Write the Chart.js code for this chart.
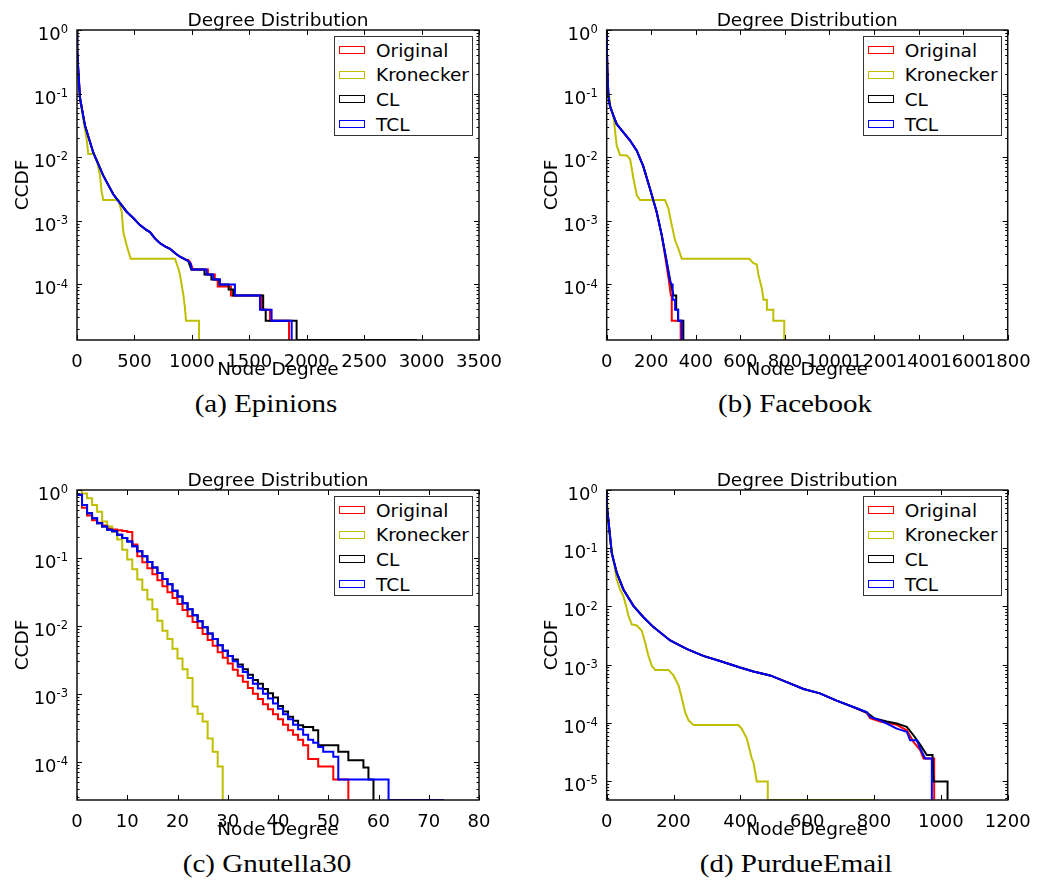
<!DOCTYPE html>
<html>
<head>
<meta charset="utf-8">
<script src="https://cdn.jsdelivr.net/npm/chart.js@4.4.0/dist/chart.umd.min.js"></script>
<style>
    body { margin: 0; background: #fff; width: 1038px; height: 880px; position: relative; overflow: hidden; font-family: "DejaVu Sans", sans-serif; }
    .panel { position: absolute; height: 390px; }
    .panel canvas { position: absolute; left: 0; top: 0; }
    .legend { position: absolute; width: 139px; height: 100px; border: 1px solid #333; box-sizing: border-box; background: #fff; }
    .item { position: absolute; left: 4px; height: 24px; display: flex; align-items: center; font: 18.5px "DejaVu Sans"; color: #000; white-space: nowrap; }
    .swatch { display: inline-block; width: 26px; height: 8px; border: 1.5px solid; box-sizing: border-box; margin-right: 11px; }
    .caption { position: absolute; width: 400px; text-align: center; font: 25px "Liberation Serif", serif; line-height: 25px; color: #000; transform: scaleX(1.16); white-space: nowrap; }
</style>
</head>
<body>
<script>
/* ================================
      DADOS
================================ */
const seriesNames = ["Original", "Kronecker", "CL", "TCL"];
const seriesColors = ["#ff0000", "#bfbf00", "#000000", "#0000ff"];
const decadeExponents = ["0", "-1", "-2", "-3", "-4", "-5"];

// (a) Epinions
const epinionsXTicks = [0, 500, 1000, 1500, 2000, 2500, 3000, 3500];
const epinionsYTicks = [1, 1e-1, 1e-2, 1e-3, 1e-4];
const epinionsYMin = 1.32e-5;
const epinionsHead = [[0, 1], [2, 0.5], [11, 0.237], [26, 0.085], [70, 0.031], [142, 0.0117], [229, 0.0051], [316, 0.0026], [432, 0.00138], [490, 0.0011], [548, 0.00085], [600, 0.00072], [635, 0.00066], [680, 0.00052], [723, 0.00044], [770, 0.00039], [810, 0.00036], [860, 0.0003], [897, 0.00027], [950, 0.00024]];
const epinionsOriginal = [...epinionsHead, [969, 0.00024], [985, 0.00022], [1000, 0.00019], [1010, 0.00017], [1140, 0.00017], [1140, 0.000142], [1200, 0.000142], [1200, 0.000118], [1225, 0.000118], [1225, 0.000092], [1340, 0.000092], [1340, 0.000066], [1610, 0.000066], [1610, 0.0000395], [1680, 0.0000395], [1680, 0.0000264], [1846, 0.0000264], [1846, 1.32e-5]];
const epinionsKronecker = [[0, 1], [3, 0.3], [10, 0.15], [26, 0.091], [55, 0.039], [84, 0.019], [98, 0.0112], [142, 0.0112], [171, 0.0093], [200, 0.0051], [215, 0.0028], [229, 0.0021], [360, 0.0021], [389, 0.00138], [403, 0.00066], [432, 0.00041], [467, 0.00025], [853, 0.00025], [882, 0.000178], [897, 0.000141], [911, 0.0000977], [926, 0.0000676], [940, 0.0000422], [949, 0.0000264], [1062, 0.0000264], [1062, 1.32e-5]];
const epinionsCL = [...epinionsHead, [969, 0.00023], [995, 0.00017], [1110, 0.00017], [1110, 0.000142], [1170, 0.000142], [1170, 0.000118], [1240, 0.000118], [1240, 0.0000985], [1320, 0.0000985], [1320, 0.000082], [1360, 0.000082], [1360, 0.000066], [1621, 0.000066], [1621, 0.0000395], [1643, 0.0000395], [1643, 0.0000264], [1912, 0.0000264], [1912, 1.32e-5], [2960, 1.32e-5]];
const epinionsTCL = [...epinionsHead, [969, 0.00023], [990, 0.00021], [998, 0.00017], [1128, 0.00017], [1128, 0.000142], [1186, 0.000142], [1186, 0.000118], [1245, 0.000118], [1245, 0.0000985], [1375, 0.0000985], [1375, 0.000066], [1593, 0.000066], [1593, 0.0000395], [1694, 0.0000395], [1694, 0.0000264], [1869, 0.0000264], [1869, 1.32e-5]];

// (b) Facebook
const facebookXTicks = [0, 200, 400, 600, 800, 1000, 1200, 1400, 1600, 1800];
const facebookYTicks = [1, 1e-1, 1e-2, 1e-3, 1e-4];
const facebookYMin = 1.32e-5;
const facebookHead = [[0, 1], [1, 0.5], [3, 0.237], [7.5, 0.091], [15, 0.063], [30, 0.045], [45, 0.033], [75, 0.0245], [105, 0.0182], [135, 0.0126], [164, 0.0072], [194, 0.0032], [224, 0.00138], [247, 0.00059]];
const facebookOriginal = [...facebookHead, [262, 0.00028], [278, 0.00012], [288, 0.000066], [292, 0.000066], [292, 0.0000264], [332, 0.0000264], [332, 1.32e-5]];
const facebookKronecker = [[0, 1], [1, 0.45], [3, 0.2], [7.5, 0.115], [17, 0.063], [30, 0.045], [45, 0.0151], [60, 0.0108], [90, 0.0106], [105, 0.0093], [120, 0.0046], [135, 0.0025], [150, 0.0021], [262, 0.0021], [277, 0.00155], [292, 0.00085], [307, 0.00049], [322, 0.00036], [337, 0.00025], [640, 0.00025], [659, 0.000214], [674, 0.000204], [681, 0.000141], [696, 0.0000871], [704, 0.000057], [719, 0.000057], [719, 0.0000395], [748, 0.0000395], [748, 0.0000264], [797, 0.0000264], [797, 1.32e-5]];
const facebookCL = [...facebookHead, [266, 0.00026], [286, 0.00011], [300, 0.000066], [312, 0.000066], [312, 0.0000395], [320, 0.0000395], [320, 0.0000264], [344, 0.0000264], [344, 1.32e-5]];
const facebookTCL = [...facebookHead, [266, 0.00026], [284, 0.00011], [292, 0.0000985], [296, 0.0000985], [296, 0.000057], [307, 0.000057], [307, 0.0000395], [321, 0.0000395], [321, 0.0000264], [337, 0.0000264], [337, 1.32e-5]];

// (c) Gnutella30 (degraus inteiros)
const gnutellaXTicks = [0, 10, 20, 30, 40, 50, 60, 70, 80];
const gnutellaYTicks = [1, 1e-1, 1e-2, 1e-3, 1e-4];
const gnutellaYMin = 2.73e-5;
const gnutellaHead = [[0, 0.85], [1, 0.6], [2, 0.455], [3, 0.385], [4, 0.325], [5, 0.29], [6, 0.26], [7, 0.246], [8, 0.22], [9, 0.196], [10, 0.175], [11, 0.148], [12, 0.125], [13, 0.106], [14, 0.087], [15, 0.072], [16, 0.06], [17, 0.049], [18, 0.041], [19, 0.033], [20, 0.027], [21, 0.0215], [22, 0.0176], [23, 0.0143], [24, 0.0117], [25, 0.0095], [26, 0.0077], [27, 0.0064], [28, 0.0052], [29, 0.0043], [30, 0.0036]];
const gnutellaOriginal = [[0, 0.85], [1, 0.55], [2, 0.42], [3, 0.36], [4, 0.33], [5, 0.3], [6, 0.27], [7, 0.262], [8, 0.256], [9, 0.25], [10, 0.24], [11, 0.157], [12, 0.106], [13, 0.0863], [14, 0.0705], [15, 0.0575], [16, 0.047], [17, 0.0384], [18, 0.0313], [19, 0.0256], [20, 0.0209], [21, 0.0171], [22, 0.0139], [23, 0.0114], [24, 0.0093], [25, 0.0076], [26, 0.0062], [27, 0.0051], [28, 0.0041], [29, 0.0034], [30, 0.0028], [31, 0.00225], [32, 0.00184], [33, 0.0015], [34, 0.00122], [35, 0.001], [36, 0.00084], [37, 0.0007], [38, 0.00059], [39, 0.0005], [40, 0.00042], [41, 0.00035], [42, 0.00029], [43, 0.00025], [44, 0.00021], [45, 0.000174], [46, 0.00011], [48, 0.000085], [51, 0.0000545], [54, 2.73e-5]];
const gnutellaKronecker = [[0, 1], [1, 0.89], [2, 0.755], [3, 0.6], [4, 0.48], [5, 0.345], [6, 0.29], [7, 0.245], [8, 0.186], [9, 0.132], [10, 0.095], [11, 0.068], [12, 0.048], [13, 0.034], [14, 0.0245], [15, 0.0176], [16, 0.0119], [17, 0.0085], [18, 0.0064], [19, 0.0046], [20, 0.0033], [21, 0.0023], [22, 0.0017], [23, 0.00065], [24, 0.00051], [25, 0.00039], [26, 0.00022], [27, 0.00014], [28, 0.000085], [29, 2.73e-5]];
const gnutellaCL = [...gnutellaHead, [31, 0.0032], [32, 0.0027], [33, 0.0023], [34, 0.0019], [35, 0.0016], [36, 0.0014], [37, 0.00118], [38, 0.00102], [39, 0.00088], [40, 0.00066], [41, 0.00055], [42, 0.00046], [43, 0.0004], [44, 0.000345], [45, 0.000325], [47, 0.00029], [48, 0.000175], [52, 0.00014], [54, 0.000105], [57, 0.000082], [58, 0.0000545], [59, 2.73e-5]];
const gnutellaTCL = [...gnutellaHead, [31, 0.003], [32, 0.0025], [33, 0.0021], [34, 0.0017], [35, 0.0014], [36, 0.0012], [37, 0.001], [38, 0.00085], [39, 0.00072], [40, 0.0006], [41, 0.0005], [42, 0.00042], [43, 0.00035], [44, 0.0003], [45, 0.00025], [46, 0.00021], [47, 0.00019], [48, 0.000165], [49, 0.00014], [51, 0.000118], [52, 0.0000545], [62, 2.73e-5], [73, 2.73e-5]];

// (d) PurdueEmail
const purdueXTicks = [0, 200, 400, 600, 800, 1000, 1200];
const purdueYTicks = [1, 1e-1, 1e-2, 1e-3, 1e-4, 1e-5];
const purdueYMin = 4.7e-6;
const purdueHead = [[0, 1], [1, 0.5], [5, 0.31], [15, 0.083], [30, 0.038], [50, 0.0195], [80, 0.0102], [110, 0.0065], [140, 0.0044], [190, 0.0026], [239, 0.00186], [289, 0.00141], [339, 0.00115], [399, 0.00089], [439, 0.00076], [489, 0.00065], [539, 0.0005], [589, 0.00038], [638, 0.00032], [688, 0.00024], [738, 0.000186]];
const purdueOriginal = [...purdueHead, [778, 0.000148], [788, 0.00012], [818, 0.000105], [868, 0.000092], [898, 0.000074], [918, 0.000047], [938, 0.000034], [948, 0.0000244], [980, 0.0000244], [980, 4.7e-6]];
const purdueKronecker = [[0, 1], [3, 0.4], [10, 0.14], [20, 0.063], [30, 0.029], [40, 0.0195], [50, 0.015], [58, 0.0102], [65, 0.0069], [75, 0.0049], [90, 0.0047], [105, 0.0038], [115, 0.0024], [125, 0.0014], [135, 0.00095], [145, 0.00081], [185, 0.00081], [200, 0.00065], [215, 0.00044], [225, 0.00026], [235, 0.00015], [245, 0.00011], [260, 0.000091], [394, 0.000091], [404, 0.000079], [419, 0.000054], [424, 0.000042], [429, 0.000032], [434, 0.0000245], [439, 0.000021], [444, 0.0000145], [449, 0.0000098], [482, 0.0000098], [482, 4.7e-6], [800, 4.7e-6]];
const purdueCL = [...purdueHead, [778, 0.00015], [800, 0.00012], [838, 0.000105], [868, 0.000097], [898, 0.000085], [918, 0.000061], [938, 0.000042], [958, 0.0000278], [975, 0.0000278], [978, 0.0000098], [1020, 0.0000098], [1020, 4.7e-6]];
const purdueTCL = [...purdueHead, [778, 0.000153], [788, 0.000126], [818, 0.00011], [838, 0.000097], [868, 0.000079], [898, 0.00007], [908, 0.00005], [928, 0.00005], [938, 0.000036], [953, 0.0000244], [973, 0.0000244], [973, 4.7e-6]];

/* ================================
      MOLDURA, TICKS E RÓTULOS 10^n
================================ */
const frameTicks = {
    id: "frameTicks",
    afterDatasetsDraw(chart) {
        const { ctx, chartArea: a, scales: { x, y } } = chart;
        ctx.save();
        ctx.strokeStyle = "#000";
        ctx.lineWidth = 1;
        const seg = (x1, y1, x2, y2) => { ctx.beginPath(); ctx.moveTo(x1, y1); ctx.lineTo(x2, y2); ctx.stroke(); };

        x.ticks.forEach(t => {
            const px = Math.round(x.getPixelForValue(t.value)) + 0.5;
            seg(px, a.bottom, px, a.bottom - 5);
            seg(px, a.top, px, a.top + 5);
        });
        y.ticks.forEach(t => {
            const py = Math.round(y.getPixelForValue(t.value)) + 0.5;
            seg(a.left, py, a.left + 5, py);
            seg(a.right, py, a.right - 5, py);
        });
        // minor ticks do log
        for (let d = Math.floor(Math.log10(y.min)); d < 0; d++) {
            for (let k = 2; k <= 9; k++) {
                const v = k * Math.pow(10, d);
                if (v <= y.min || v >= y.max) continue;
                const py = Math.round(y.getPixelForValue(v)) + 0.5;
                seg(a.left, py, a.left + 2.5, py);
                seg(a.right, py, a.right - 2.5, py);
            }
        }
        ctx.lineWidth = 1.5;
        ctx.strokeStyle = "#111";
        ctx.strokeRect(a.left, a.top, a.right - a.left, a.bottom - a.top);

        // rótulos do eixo y: base 10 com expoente pequeno
        ctx.fillStyle = "#000";
        ctx.textAlign = "right";
        ctx.textBaseline = "alphabetic";
        y.ticks.forEach(t => {
            const py = y.getPixelForValue(t.value);
            const exp = decadeExponents[Math.round(-Math.log10(t.value))];
            const xr = a.left - 9;
            ctx.font = '11.5px "DejaVu Sans"';
            const ew = ctx.measureText(exp).width;
            ctx.fillText(exp, xr, py + 3.4);
            ctx.font = '18px "DejaVu Sans"';
            ctx.fillText("10", xr - ew, py + 10);
        });
        ctx.restore();
    }
};

/* ================================
      PAINÉIS
================================ */
const fontBase = { family: "DejaVu Sans", size: 18.5, weight: "normal", lineHeight: 1 };

function criarPainel(p) {
    const box = document.createElement("div");
    box.className = "panel";
    box.style.left = p.left + "px";
    box.style.top = p.top + "px";
    box.style.width = p.width + "px";
    document.body.appendChild(box);

    const canvas = document.createElement("canvas");
    canvas.width = p.width;
    canvas.height = 390;
    canvas.style.width = p.width + "px";
    canvas.style.height = "390px";
    box.appendChild(canvas);

    const datasets = p.series.map((pts, i) => ({
        label: seriesNames[i],
        data: pts.map(([x, y]) => ({ x, y })),
        borderColor: seriesColors[i],
        backgroundColor: seriesColors[i],
        borderWidth: 2,
        pointRadius: 0,
        fill: false,
        tension: 0,
        stepped: p.stepped,
        order: 3 - i
    }));

    const chart = new Chart(canvas, {
        type: "line",
        data: { datasets },
        options: {
            responsive: false,
            animation: false,
            events: [],
            devicePixelRatio: 1,
            layout: { padding: { left: 0, top: 0, bottom: 0, right: p.width - p.plotRight } },
            plugins: {
                legend: { display: false },
                tooltip: { enabled: false },
                title: {
                    display: true,
                    text: "Degree Distribution",
                    fullSize: false,
                    color: "#000",
                    font: fontBase,
                    padding: { top: 11.5, bottom: 0 }
                }
            },
            scales: {
                x: {
                    type: "linear",
                    min: 0,
                    max: p.xTicks[p.xTicks.length - 1],
                    afterBuildTicks: s => { s.ticks = p.xTicks.map(v => ({ value: v })); },
                    afterFit: s => { s.height = 50; },
                    grid: { display: false },
                    border: { display: false },
                    ticks: { autoSkip: false, maxRotation: 0, minRotation: 0, padding: 4, color: "#000", font: { family: "DejaVu Sans", size: 18, lineHeight: 1.2 }, callback: v => String(v) },
                    title: { display: true, text: "Node Degree", color: "#000", font: fontBase, padding: { top: 0, bottom: 10.5 } }
                },
                y: {
                    type: "logarithmic",
                    min: p.yMin,
                    max: 1,
                    afterBuildTicks: s => { s.ticks = p.yTicks.map(v => ({ value: v })); },
                    afterFit: s => { s.width = p.plotLeft; },
                    grid: { display: false },
                    border: { display: false },
                    ticks: { display: false },
                    title: { display: true, text: "CCDF", color: "#000", font: fontBase, padding: { top: p.yTitlePad, bottom: 0 } }
                }
            }
        },
        plugins: [frameTicks]
    });

    // legenda no canto superior direito
    const a = chart.chartArea;
    const lg = document.createElement("div");
    lg.className = "legend";
    lg.style.left = (a.right - 6 - 139) + "px";
    lg.style.top = (a.top + 6) + "px";
    seriesNames.forEach((name, i) => {
        const row = document.createElement("div");
        row.className = "item";
        row.style.top = (1 + i * 24.7) + "px";
        const sw = document.createElement("span");
        sw.className = "swatch";
        sw.style.borderColor = seriesColors[i];
        const tx = document.createElement("span");
        tx.textContent = name;
        row.append(sw, tx);
        lg.appendChild(row);
    });
    box.appendChild(lg);

    const cap = document.createElement("div");
    cap.className = "caption";
    cap.textContent = p.caption;
    cap.style.left = (p.captionX - 200) + "px";
    cap.style.top = p.captionY + "px";
    document.body.appendChild(cap);
}

criarPainel({ left: 0, top: 0, width: 520, plotLeft: 77, plotRight: 479, yTitlePad: 13.6, stepped: false,
    xTicks: epinionsXTicks, yTicks: epinionsYTicks, yMin: epinionsYMin,
    series: [epinionsOriginal, epinionsKronecker, epinionsCL, epinionsTCL],
    caption: "(a) Epinions", captionX: 266, captionY: 391 });

criarPainel({ left: 520, top: 0, width: 518, plotLeft: 86.7, plotRight: 487.7, yTitlePad: 22.9, stepped: false,
    xTicks: facebookXTicks, yTicks: facebookYTicks, yMin: facebookYMin,
    series: [facebookOriginal, facebookKronecker, facebookCL, facebookTCL],
    caption: "(b) Facebook", captionX: 795, captionY: 391 });

criarPainel({ left: 0, top: 460, width: 520, plotLeft: 77, plotRight: 479, yTitlePad: 13.6, stepped: true,
    xTicks: gnutellaXTicks, yTicks: gnutellaYTicks, yMin: gnutellaYMin,
    series: [gnutellaOriginal, gnutellaKronecker, gnutellaCL, gnutellaTCL],
    caption: "(c) Gnutella30", captionX: 267, captionY: 851 });

criarPainel({ left: 520, top: 460, width: 518, plotLeft: 86.7, plotRight: 487.7, yTitlePad: 22.9, stepped: false,
    xTicks: purdueXTicks, yTicks: purdueYTicks, yMin: purdueYMin,
    series: [purdueOriginal, purdueKronecker, purdueCL, purdueTCL],
    caption: "(d) PurdueEmail", captionX: 796, captionY: 851 });
</script>
</body>
</html>
